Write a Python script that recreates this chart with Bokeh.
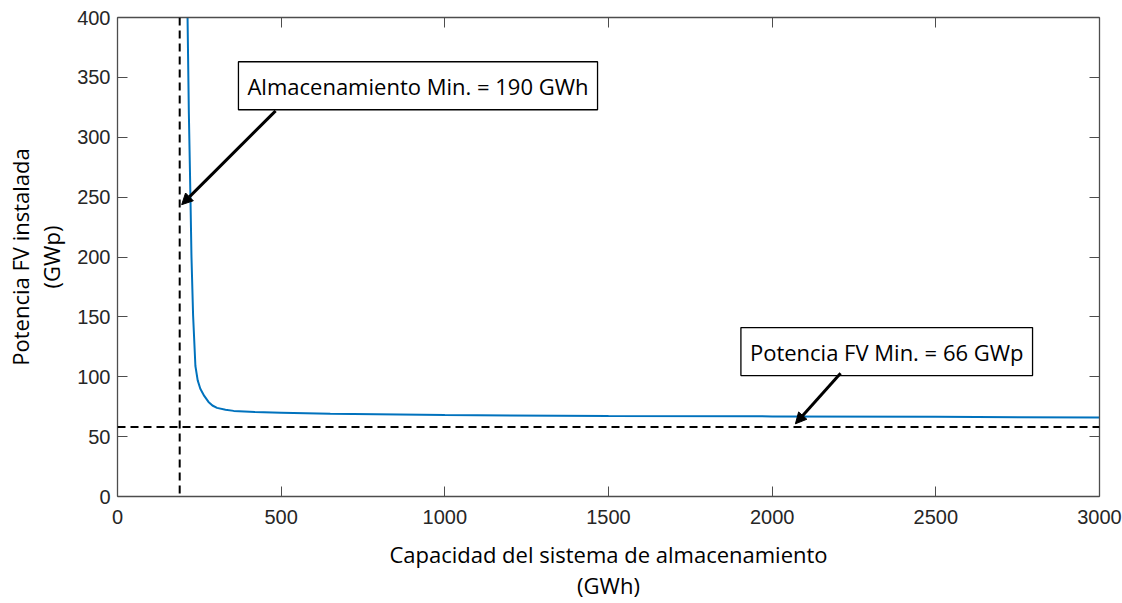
from bokeh.plotting import figure
from bokeh.models import Span, Label, Arrow, NormalHead, LinearAxis, Range1d, FixedTicker
from bokeh.embed import file_html
from bokeh.resources import INLINE

# Installed PV power needed vs. storage capacity
storage_gwh = [214, 218, 223, 226, 231, 238, 245, 253, 265, 278, 290, 304, 330, 355,
               420, 500, 650, 1000, 1500, 2000, 2500, 3000]
pv_power_gwp = [400, 320, 248, 200, 151, 109, 97, 90, 84, 79, 76, 74, 72.5, 71.5,
                70.5, 70, 69, 68, 67.3, 66.9, 66.5, 66]

min_storage = 190      # GWh
min_power_line = 58    # GWp, reference dashed line
x_ticks = [0, 500, 1000, 1500, 2000, 2500, 3000]
y_ticks = [0, 50, 100, 150, 200, 250, 300, 350, 400]

TICK_FONT = "Liberation Sans"
TEXT_FONT = "Open Sans"
AX_COLOR = "#4d4d4d"

p = figure(width=1122, height=603, output_backend="svg", toolbar_location=None,
           x_range=Range1d(0, 3000), y_range=Range1d(0, 400),
           min_border_left=117, min_border_right=23, min_border_top=17,
           min_border_bottom=105, x_axis_type=None, y_axis_type=None)
p.outline_line_color = None


def style_axis(ax, ticks, show_labels, standoff):
    ax.axis_line_color = AX_COLOR
    ax.axis_line_width = 1.3
    ax.major_tick_in = 10
    ax.major_tick_out = 0
    ax.major_tick_line_color = AX_COLOR
    ax.minor_tick_line_color = None
    ax.major_label_text_font = TICK_FONT
    ax.major_label_text_font_size = "20px"
    ax.major_label_text_color = "#262626"
    ax.major_label_standoff = standoff
    if not show_labels:
        ax.major_label_overrides = {t: "" for t in ticks}
        ax.major_label_standoff = 0


def style_label(ax, text, standoff):
    ax.axis_label = text
    ax.axis_label_text_font = TEXT_FONT
    ax.axis_label_text_font_size = "22px"
    ax.axis_label_text_font_style = "normal"
    ax.axis_label_text_color = "#000000"
    ax.axis_label_text_line_height = 1.05
    ax.axis_label_standoff = standoff


xb = LinearAxis(ticker=FixedTicker(ticks=x_ticks))
style_axis(xb, x_ticks, True, 13)
style_label(xb, "Capacidad del sistema de almacenamiento\n(GWh)", 12)
p.add_layout(xb, "below")

yl = LinearAxis(ticker=FixedTicker(ticks=y_ticks))
style_axis(yl, y_ticks, True, 7)
style_label(yl, "Potencia FV instalada\n(GWp)", 8)
p.add_layout(yl, "left")

xt = LinearAxis(ticker=FixedTicker(ticks=x_ticks))
style_axis(xt, x_ticks, False, 0)
p.add_layout(xt, "above")

yr = LinearAxis(ticker=FixedTicker(ticks=y_ticks))
style_axis(yr, y_ticks, False, 0)
p.add_layout(yr, "right")

p.xgrid.ticker = FixedTicker(ticks=x_ticks)
p.ygrid.ticker = FixedTicker(ticks=y_ticks)
for g in (p.xgrid, p.ygrid):
    g.grid_line_color = "#e6e6e6"
    g.grid_line_width = 1

# Reference lines
p.add_layout(Span(location=min_storage, dimension="height", line_color="black",
                  line_width=2, line_dash="8 5"))
p.add_layout(Span(location=min_power_line, dimension="width", line_color="black",
                  line_width=2, line_dash="8 5"))

# Curve
p.line(storage_gwh, pv_power_gwp, line_color="#0072BD", line_width=2)

# Annotations
for txt, cx, cy in [("Almacenamiento Min. = 190 GWh", 918, 343),
                    ("Potencia FV Min. = 66 GWp", 2350, 121)]:
    p.add_layout(Label(x=cx, y=cy, text=txt, text_font=TEXT_FONT,
                       text_font_size="22px", text_color="black",
                       text_align="center", text_baseline="middle",
                       border_line_color="black", border_line_width=1.3,
                       background_fill_color="white", padding=9))

for x0, y0, x1, y1 in [(483, 322, 196, 243.7), (2209, 103, 2071, 60.7)]:
    p.add_layout(Arrow(x_start=x0, y_start=y0, x_end=x1, y_end=y1,
                       line_color="black", line_width=3,
                       end=NormalHead(size=11, fill_color="black",
                                      line_color="black", line_width=1)))

open("out.html", "w").write(file_html(p, INLINE))
